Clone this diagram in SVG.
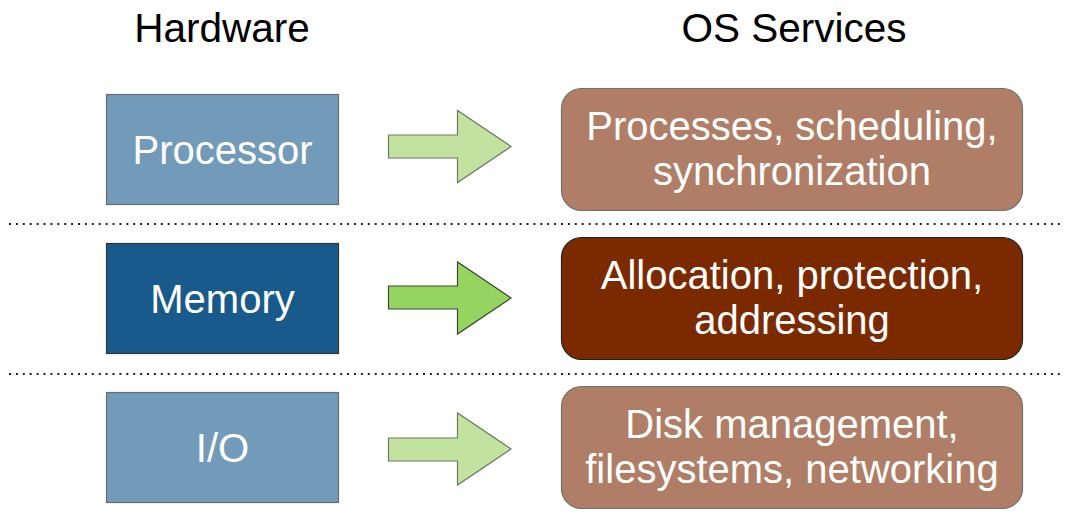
<svg xmlns="http://www.w3.org/2000/svg" width="1065" height="512" viewBox="0 0 1065 512">
<style>
  .head { font-family: "Liberation Sans", Arial, sans-serif; font-size: 40.5px; fill: #000; text-anchor: middle; }
  .lbl { font-family: "Liberation Sans", Arial, sans-serif; font-size: 40px; fill: #fff; text-anchor: middle; }
  .hw { fill: #729bb9; stroke: #6b6b6b; stroke-width: 1.2; }
  .hw-on { fill: #185a8b; stroke: #333; stroke-width: 1.2; }
  .os { fill: #b07e66; stroke: #707070; stroke-width: 1.2; }
  .os-on { fill: #7b2a00; stroke: #222; stroke-width: 1.2; }
  .arr { fill: #c2e3a0; stroke: #6b7a60; stroke-width: 1.2; stroke-linejoin: miter; }
  .arr-on { fill: #96d462; stroke: #3a4a30; stroke-width: 1.2; }
  .sep { stroke: #222; stroke-width: 2; stroke-dasharray: 2 4.9; fill: none; }
</style>
<rect width="1065" height="512" fill="#fff"/>
<g id="headers">
  <text class="head" x="222" y="42">Hardware</text>
  <text class="head" x="794" y="42">OS Services</text>
</g>
<g id="separators">
  <line class="sep" x1="9" y1="224" x2="1062" y2="224"/>
  <line class="sep" x1="9" y1="374" x2="1062" y2="374"/>
</g>
<g id="processor">
  <rect class="hw" x="106.5" y="94.5" width="232" height="110"/>
  <text class="lbl" x="222.5" y="164">Processor</text>
</g>
<g id="memory">
  <rect class="hw-on" x="106.5" y="243.5" width="232" height="110"/>
  <text class="lbl" x="222.5" y="313">Memory</text>
</g>
<g id="io">
  <rect class="hw" x="106.5" y="392.5" width="232" height="110"/>
  <text class="lbl" x="222.5" y="462">I/O</text>
</g>
<g id="svc-processes">
  <rect class="os" x="561.5" y="88.5" width="461" height="122" rx="20"/>
  <text class="lbl" x="792" y="140">Processes, scheduling,</text>
  <text class="lbl" x="792" y="185">synchronization</text>
</g>
<g id="svc-memory">
  <rect class="os-on" x="561.5" y="237.5" width="461" height="122" rx="20"/>
  <text class="lbl" x="792" y="289">Allocation, protection,</text>
  <text class="lbl" x="792" y="334">addressing</text>
</g>
<g id="svc-io">
  <rect class="os" x="561.5" y="386.5" width="461" height="122" rx="20"/>
  <text class="lbl" x="792" y="438">Disk management,</text>
  <text class="lbl" x="792" y="483">filesystems, networking</text>
</g>
<g id="connectors">
  <polygon class="arr" points="388.5,135 457.5,135 457.5,110.5 511,146.5 457.5,182.5 457.5,158 388.5,158"/>
  <polygon class="arr-on" points="388.5,286 457.5,286 457.5,262 511,298 457.5,334 457.5,309 388.5,309"/>
  <polygon class="arr" points="388.5,438 457.5,438 457.5,413 511,449 457.5,485 457.5,461 388.5,461"/>
</g>
</svg>
